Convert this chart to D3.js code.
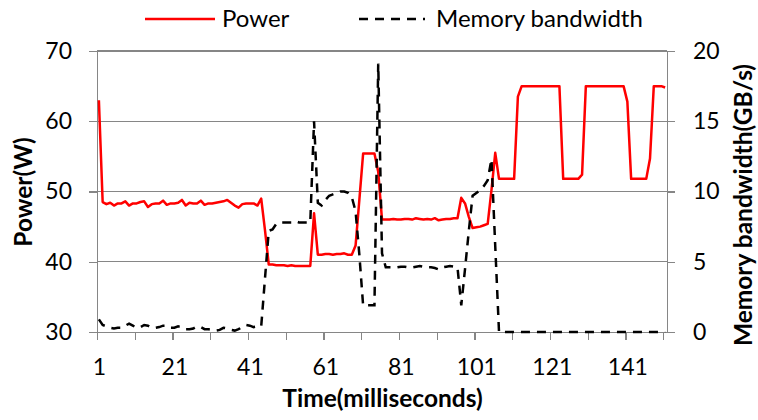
<!DOCTYPE html>
<html lang="en">
<head>
<meta charset="UTF-8">
<title>Power and memory bandwidth</title>
<script src="https://cdn.jsdelivr.net/npm/d3@7"></script>
<style>
    body { margin: 0; background: #fff; }
    svg { font-family: Lato, "Open Sans", sans-serif; }
    .axis path, .axis line {
        fill: none;
        stroke: #868686;
        stroke-width: 1.3;
        shape-rendering: crispEdges;
    }
    .axis text { font-family: Lato, sans-serif; font-size: 23px; fill: #000; }
    .grid line { stroke: #868686; stroke-width: 1.3; shape-rendering: crispEdges; }
    .title { font-weight: bold; font-size: 24.5px; fill: #000; }
    .legend text { font-size: 24px; fill: #000; }
</style>
</head>
<body>
<script>
// values, one per millisecond (1..151)
var power = [
    63.0,
    48.5, 48.2, 48.4, 48.0, 48.3, 48.3, 48.6, 48.0, 48.3, 48.3,
    48.5, 48.6, 47.8, 48.2, 48.3, 48.3, 48.7, 48.1, 48.3, 48.3,
    48.4, 48.8, 48.0, 48.4, 48.3, 48.3, 48.7, 48.1, 48.3, 48.3,
    48.4, 48.5, 48.6, 48.8, 48.4, 48.0, 47.7, 48.2, 48.3, 48.3,
    48.3, 48.0, 49.0,
    44.5,
    39.6, 39.6, 39.5, 39.5, 39.5, 39.4, 39.5, 39.4, 39.4, 39.4, 39.4, 39.4,
    46.9,
    41.0, 41.0, 41.1, 41.1, 41.0, 41.1, 41.1, 41.2, 41.0, 41.0,
    42.3, 48.8, 55.4, 55.4, 55.4, 55.4, 52.8, 46.0,
    46.0, 46.0, 46.1, 46.0, 46.0, 46.1, 46.1, 46.0, 46.2, 46.1,
    46.0, 46.1, 46.0, 46.2, 45.9, 46.0, 46.1, 46.1, 46.2, 46.2,
    49.1, 48.3, 46.4, 44.8, 44.9, 45.0, 45.2, 45.4, 50.2, 55.5,
    51.8, 51.8, 51.8, 51.8, 51.8,
    63.5,
    65.0, 65.0, 65.0, 65.0, 65.0, 65.0, 65.0, 65.0, 65.0, 65.0, 65.0,
    51.8, 51.8, 51.8, 51.8, 51.8,
    52.4,
    65.0, 65.0, 65.0, 65.0, 65.0, 65.0, 65.0, 65.0, 65.0, 65.0, 65.0,
    62.8,
    51.8, 51.8, 51.8, 51.8, 51.8,
    54.7,
    65.0, 65.0, 65.0, 64.8
];

var memory = [
    0.9, 0.5, 0.4, 0.3, 0.25, 0.3, 0.3, 0.45, 0.6, 0.45,
    0.3, 0.35, 0.5, 0.45, 0.3, 0.3, 0.35, 0.45, 0.45, 0.3,
    0.3, 0.4, 0.35, 0.2, 0.2, 0.25, 0.4, 0.35, 0.2, 0.2,
    0.15, 0.1, 0.15, 0.3, 0.25, 0.15, 0.1, 0.2, 0.35, 0.5,
    0.45, 0.35, 0.4, 0.4,
    3.8, 7.2, 7.3, 7.7,
    7.8, 7.8, 7.8, 7.8, 7.9, 7.8, 7.8, 7.8, 7.8,
    15.0,
    9.2, 9.0, 9.4, 9.7, 9.8, 9.9, 10.0, 10.0, 9.9, 9.6, 8.6, 5.5,
    1.9, 1.9, 1.9, 1.9,
    19.1, 5.6,
    4.6, 4.6, 4.6, 4.6, 4.65, 4.65, 4.6, 4.6, 4.65, 4.7,
    4.65, 4.6, 4.6, 4.55, 4.45, 4.6, 4.65, 4.7, 4.65, 4.6,
    1.9, 4.5, 7.2, 9.7, 9.9, 10.1, 10.4, 10.8, 12.3, 6.1,
    0, 0, 0, 0, 0, 0, 0, 0, 0, 0,
    0, 0, 0, 0, 0, 0, 0, 0, 0, 0,
    0, 0, 0, 0, 0, 0, 0, 0, 0, 0,
    0, 0, 0, 0, 0, 0, 0, 0, 0, 0,
    0, 0, 0, 0, 0
];

var xLabels = [1, 21, 41, 61, 81, 101, 121, 141];
var powerTicks = [30, 40, 50, 60, 70];
var memoryTicks = [0, 5, 10, 15, 20];
var seriesNames = ["Power", "Memory bandwidth"];

var width = 758, height = 420;
var plotLeft = 97, plotRight = 667, plotTop = 51, plotBottom = 332;

var svg = d3.select("body")
    .append("svg")
    .attr("width", width)
    .attr("height", height);

// category axis: each ms sits in the middle of its slot
var x = d3.scaleLinear().domain([0.5, power.length + 0.5]).range([plotLeft, plotRight]);
var yPower = d3.scaleLinear().domain([30, 70]).range([plotBottom, plotTop]);
var yMem = d3.scaleLinear().domain([0, 20]).range([plotBottom, plotTop]);

// gridlines
svg.append("g").attr("class", "grid")
    .selectAll("line")
    .data(powerTicks.slice(1))
    .enter().append("line")
    .attr("x1", plotLeft).attr("x2", plotRight)
    .attr("y1", function (d) { return yPower(d); })
    .attr("y2", function (d) { return yPower(d); });

// left axis
svg.append("g").attr("class", "axis")
    .attr("transform", "translate(" + plotLeft + ",0)")
    .call(d3.axisLeft(yPower).tickValues(powerTicks).tickSize(8).tickSizeOuter(0).tickPadding(17));

// right axis
svg.append("g").attr("class", "axis")
    .attr("transform", "translate(" + plotRight + ",0)")
    .call(d3.axisRight(yMem).tickValues(memoryTicks).tickSize(8).tickSizeOuter(0).tickPadding(18));

// bottom axis: tick marks between every 10 categories
var tickMarks = d3.range(0, power.length, 10).map(function (d) { return d + 0.5; });
svg.append("g").attr("class", "axis")
    .attr("transform", "translate(0," + plotBottom + ")")
    .call(d3.axisBottom(x).tickValues(tickMarks).tickSize(8).tickSizeOuter(0).tickFormat(""));

var xLab = svg.append("g").attr("class", "axis")
    .attr("transform", "translate(0," + plotBottom + ")")
    .call(d3.axisBottom(x).tickValues(xLabels).tickSize(0).tickPadding(27).tickFormat(d3.format("d")));
xLab.select(".domain").remove();

// series
var powerLine = d3.line()
    .x(function (d, i) { return x(i + 1); })
    .y(function (d) { return yPower(d); });
var memLine = d3.line()
    .x(function (d, i) { return x(i + 1); })
    .y(function (d) { return yMem(d); });

svg.append("path")
    .datum(power)
    .attr("d", powerLine)
    .attr("fill", "none")
    .attr("stroke", "#ff0000")
    .attr("stroke-width", 2.5)
    .attr("stroke-linejoin", "round");

svg.append("path")
    .datum(memory)
    .attr("d", memLine)
    .attr("fill", "none")
    .attr("stroke", "#000")
    .attr("stroke-width", 2.5)
    .attr("stroke-dasharray", "9,7");

// axis titles
svg.append("text").attr("class", "title")
    .attr("x", (plotLeft + plotRight) / 2 + 0.5).attr("y", 407)
    .attr("text-anchor", "middle")
    .text("Time(milliseconds)");

svg.append("text").attr("class", "title")
    .attr("transform", "translate(32,192) rotate(-90)")
    .attr("text-anchor", "middle")
    .text("Power(W)");

svg.append("text").attr("class", "title")
    .attr("transform", "translate(752,205) rotate(-90)")
    .attr("text-anchor", "middle")
    .text("Memory bandwidth(GB/s)");

// legend
var legend = svg.append("g").attr("class", "legend");
legend.append("line")
    .attr("x1", 145).attr("x2", 215).attr("y1", 19).attr("y2", 19)
    .attr("stroke", "#ff0000").attr("stroke-width", 2.5);
legend.append("text").attr("x", 222).attr("y", 27).text(seriesNames[0]);
legend.append("line")
    .attr("x1", 359).attr("x2", 425).attr("y1", 19).attr("y2", 19)
    .attr("stroke", "#000").attr("stroke-width", 2.5)
    .attr("stroke-dasharray", "9,7");
legend.append("text").attr("x", 436).attr("y", 27).text(seriesNames[1]);
</script>
</body>
</html>
